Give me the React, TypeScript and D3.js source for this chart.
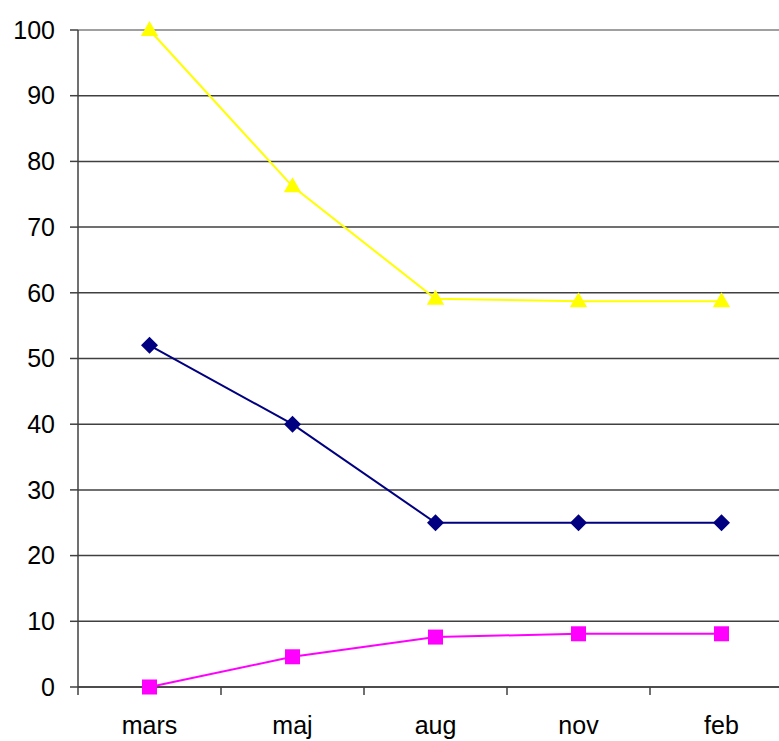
import React from "react";
import * as d3 from "d3";

const categories = ["mars", "maj", "aug", "nov", "feb"];
const yellowSeries = [100, 76.2, 59.1, 58.7, 58.7];
const blueSeries = [52, 40, 25, 25, 25];
const magentaSeries = [0, 4.6, 7.6, 8.1, 8.1];
const yTicks = [0, 10, 20, 30, 40, 50, 60, 70, 80, 90, 100];

const W = 779;
const H = 741;
const left = 78;
const top = 30;
const bottom = 687;
const band = 143;

export default function App() {
  const x = d3
    .scaleBand<string>()
    .domain(categories)
    .range([left, left + band * categories.length])
    .paddingInner(0)
    .paddingOuter(0);
  const y = d3.scaleLinear().domain([0, 100]).range([bottom, top]);
  const cx = (c: string) => (x(c) as number) + x.bandwidth() / 2;

  const line = d3
    .line<number>()
    .x((_, i) => cx(categories[i]))
    .y((d) => y(d));

  const boundaries = categories.map((c) => x(c) as number);
  const font = "'Liberation Sans', Arial, sans-serif";

  const tri = d3.symbol().type(d3.symbolTriangle).size(130)();
  const sq = d3.symbol().type(d3.symbolSquare).size(225)();
  const dia = (s: number) => `M0,${-s}L${s},0L0,${s}L${-s},0Z`;

  return (
    <svg
      width={W}
      height={H}
      style={{ position: "absolute", left: 0, top: 0, background: "#fff" }}
    >
      {/* gridlines */}
      {yTicks.map((t) => (
        <line
          key={"g" + t}
          x1={left}
          x2={W}
          y1={y(t)}
          y2={y(t)}
          stroke={t === 100 ? "#808080" : "#404040"}
          strokeWidth={1.5}
        />
      ))}
      {/* y ticks and labels */}
      {yTicks.map((t) => (
        <g key={"t" + t}>
          <line x1={70} x2={left} y1={y(t)} y2={y(t)} stroke="#404040" strokeWidth={1.5} />
          <text
            x={55}
            y={y(t)}
            dy="0.35em"
            textAnchor="end"
            fontFamily={font}
            fontSize={25}
            fill="#000"
          >
            {t}
          </text>
        </g>
      ))}
      {/* x ticks */}
      {boundaries.map((b, i) => (
        <line key={"xt" + i} x1={b} x2={b} y1={bottom} y2={bottom + 8} stroke="#404040" strokeWidth={1.5} />
      ))}
      {/* axes */}
      <line x1={left} x2={left} y1={top} y2={bottom} stroke="#404040" strokeWidth={1.5} />
      <line x1={left} x2={W} y1={bottom} y2={bottom} stroke="#404040" strokeWidth={1.5} />
      {/* x labels */}
      {categories.map((c) => (
        <text
          key={"xl" + c}
          x={cx(c)}
          y={734}
          textAnchor="middle"
          fontFamily={font}
          fontSize={25}
          fill="#000"
        >
          {c}
        </text>
      ))}
      {/* series */}
      <path d={line(yellowSeries) || ""} fill="none" stroke="#FFFF00" strokeWidth={2} />
      <path d={line(blueSeries) || ""} fill="none" stroke="#000080" strokeWidth={2} />
      <path d={line(magentaSeries) || ""} fill="none" stroke="#FF00FF" strokeWidth={2} />
      {yellowSeries.map((v, i) => (
        <path key={"ym" + i} d={tri || ""} transform={`translate(${cx(categories[i])},${y(v) + 1})`} fill="#FFFF00" />
      ))}
      {blueSeries.map((v, i) => (
        <path key={"bm" + i} d={dia(8.5)} transform={`translate(${cx(categories[i])},${y(v)})`} fill="#000080" />
      ))}
      {magentaSeries.map((v, i) => (
        <path key={"mm" + i} d={sq || ""} transform={`translate(${cx(categories[i])},${y(v)})`} fill="#FF00FF" />
      ))}
    </svg>
  );
}
